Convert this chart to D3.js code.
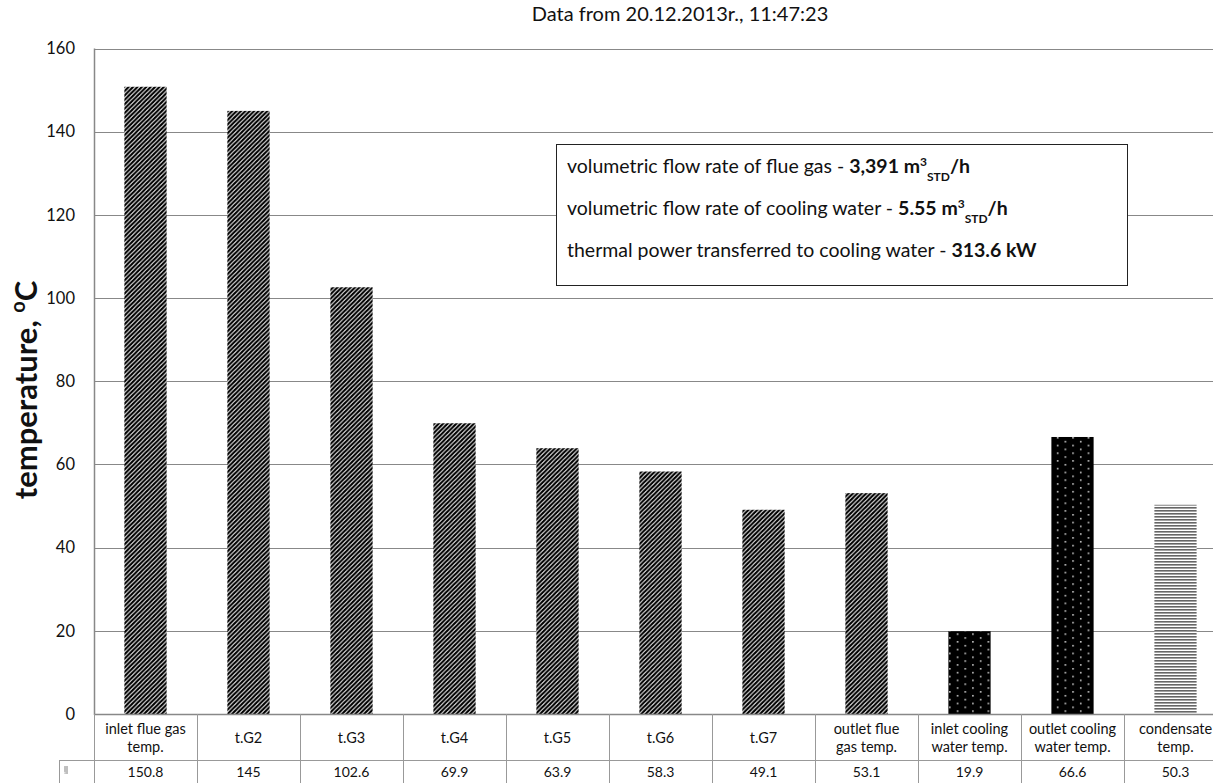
<!DOCTYPE html>
<html>
<head>
<meta charset="utf-8">
<script src="https://d3js.org/d3.v7.min.js"></script>
<style>
  body { margin: 0; background: #fff; }
  svg { display: block; font-family: Lato, "Open Sans", sans-serif; }
</style>
</head>
<body>
<svg id="chart" width="1213" height="783"></svg>
<script>
// chart data
const categories = ["inlet flue gas temp.", "t.G2", "t.G3", "t.G4", "t.G5", "t.G6", "t.G7",
                    "outlet flue gas temp.", "inlet cooling water temp.", "outlet cooling water temp.", "condensate temp."];
const labelLines = [["inlet flue gas", "temp."], ["t.G2"], ["t.G3"], ["t.G4"], ["t.G5"], ["t.G6"], ["t.G7"],
                    ["outlet flue", "gas temp."], ["inlet cooling", "water temp."], ["outlet cooling", "water temp."], ["condensate", "temp."]];
const temps = [150.8, 145, 102.6, 69.9, 63.9, 58.3, 49.1, 53.1, 19.9, 66.6, 50.3];
const tempLabels = ["150.8", "145", "102.6", "69.9", "63.9", "58.3", "49.1", "53.1", "19.9", "66.6", "50.3"];
const yTicks = [0, 20, 40, 60, 80, 100, 120, 140, 160];
const titleText = "Data from 20.12.2013r., 11:47:23";

var svg = d3.select("#chart");
var plotLeft = 94, plotTop = 48.5, plotBottom = 714, step = 103;

var x = d3.scaleBand()
  .domain(categories)
  .range([plotLeft, plotLeft + step * categories.length])
  .paddingInner(0.59)
  .paddingOuter(0.295);

var y = d3.scaleLinear()
  .domain([0, 160])
  .range([plotBottom, plotTop]);

// patterns
var defs = svg.append("defs");
var diag = defs.append("pattern").attr("id", "diag")
  .attr("patternUnits", "userSpaceOnUse").attr("width", 4.4).attr("height", 4.4);
diag.append("rect").attr("width", 4.4).attr("height", 4.4).attr("fill", "#fff");
diag.append("path").attr("d", "M-1,1 l2,-2 M0,4.4 l4.4,-4.4 M3.4,5.4 l2,-2")
  .attr("stroke", "#000").attr("stroke-width", 2.1);

var dots = defs.append("pattern").attr("id", "dots")
  .attr("patternUnits", "userSpaceOnUse").attr("width", 15.4).attr("height", 7.7);
dots.append("rect").attr("width", 15.4).attr("height", 7.7).attr("fill", "#000");
dots.append("rect").attr("x", 2).attr("y", 2).attr("width", 1.5).attr("height", 1.5).attr("fill", "#e4e4e4");
dots.append("rect").attr("x", 9.7).attr("y", 5.85).attr("width", 1.5).attr("height", 1.5).attr("fill", "#e4e4e4");

var hstripe = defs.append("pattern").attr("id", "hstripe")
  .attr("patternUnits", "userSpaceOnUse").attr("width", 6).attr("height", 3);
hstripe.append("rect").attr("width", 6).attr("height", 3).attr("fill", "#fff");
hstripe.append("rect").attr("y", 0).attr("width", 6).attr("height", 1.6).attr("fill", "#666");

function fillFor(name) {
  if (name.indexOf("cooling water") >= 0) return "url(#dots)";
  if (name.indexOf("condensate") >= 0) return "url(#hstripe)";
  return "url(#diag)";
}

// title
svg.append("text")
  .attr("x", 680).attr("y", 21)
  .attr("text-anchor", "middle")
  .style("font-size", "20px").style("fill", "#111")
  .text(titleText);

// gridlines
svg.append("g").selectAll("line")
  .data(yTicks.filter(function(d) { return d > 0; }))
  .enter().append("line")
  .attr("x1", plotLeft).attr("x2", 1213)
  .attr("y1", function(d) { return Math.round(y(d)) + 0.5; })
  .attr("y2", function(d) { return Math.round(y(d)) + 0.5; })
  .attr("stroke", "#888").attr("stroke-width", 1);

// y axis
var yAxis = svg.append("g")
  .attr("transform", "translate(" + plotLeft + ",0)")
  .call(d3.axisLeft(y).tickValues(yTicks).tickSize(0).tickPadding(19));
yAxis.select(".domain").remove();
yAxis.selectAll("text").style("font-size", "16.5px").style("fill", "#111").style("font-family", "Lato, sans-serif");

svg.append("line")
  .attr("x1", plotLeft + 0.5).attr("x2", plotLeft + 0.5)
  .attr("y1", plotTop).attr("y2", plotBottom + 1)
  .attr("stroke", "#888").attr("stroke-width", 1.5);

// y title
var yt = svg.append("text")
  .attr("transform", "translate(37,390) rotate(-90)")
  .attr("text-anchor", "middle")
  .style("font-size", "31px").style("font-weight", "bold").style("fill", "#111");
yt.append("tspan").text("temperature, ");
yt.append("tspan").attr("baseline-shift", "super").style("font-size", "20px").text("o");
yt.append("tspan").text("C");

// bars
svg.append("g").selectAll("rect")
  .data(temps)
  .enter().append("rect")
  .attr("x", function(d, i) { return x(categories[i]); })
  .attr("width", x.bandwidth())
  .attr("y", function(d) { return y(d); })
  .attr("height", function(d) { return y(0) - y(d); })
  .attr("fill", function(d, i) { return fillFor(categories[i]); });

// info box
var box = svg.append("g");
box.append("rect")
  .attr("x", 556.5).attr("y", 144.5).attr("width", 571).attr("height", 141)
  .attr("fill", "#fff").attr("stroke", "#222").attr("stroke-width", 1);

function boxLine(yy, plain, boldParts) {
  var t = box.append("text").attr("x", 567).attr("y", yy)
    .style("font-size", "19.5px").style("fill", "#111");
  t.append("tspan").text(plain);
  boldParts.forEach(function(p) {
    var s = t.append("tspan").style("font-weight", "bold").text(p.t);
    if (p.sup) s.attr("baseline-shift", "super").style("font-size", "12px");
    if (p.sub) s.attr("baseline-shift", "sub").style("font-size", "12px");
  });
}
boxLine(173, "volumetric flow rate of flue gas - ",
  [{t: "3,391 m"}, {t: "3", sup: true}, {t: "STD", sub: true}, {t: "/h"}]);
boxLine(215, "volumetric flow rate of cooling water - ",
  [{t: "5.55 m"}, {t: "3", sup: true}, {t: "STD", sub: true}, {t: "/h"}]);
boxLine(257, "thermal power transferred to cooling water - ", [{t: "313.6 kW"}]);

// data table
var table = svg.append("g");
var rowSplit = 760.5, tableRight = plotLeft + step * categories.length;
table.append("line").attr("x1", plotLeft).attr("x2", tableRight)
  .attr("y1", plotBottom + 0.5).attr("y2", plotBottom + 0.5).attr("stroke", "#888").attr("stroke-width", 1.5);
table.append("line").attr("x1", 59).attr("x2", tableRight)
  .attr("y1", rowSplit).attr("y2", rowSplit).attr("stroke", "#999");
table.append("line").attr("x1", 59.5).attr("x2", 59.5)
  .attr("y1", rowSplit).attr("y2", 783).attr("stroke", "#999");
table.selectAll(".vb")
  .data(d3.range(categories.length + 1))
  .enter().append("line").attr("class", "vb")
  .attr("x1", function(i) { return Math.round(plotLeft + i * step) + 0.5; })
  .attr("x2", function(i) { return Math.round(plotLeft + i * step) + 0.5; })
  .attr("y1", plotBottom).attr("y2", 783)
  .attr("stroke", "#999");

// header labels
categories.forEach(function(c, i) {
  var lines = labelLines[i];
  var cx = x(c) + x.bandwidth() / 2;
  var y0 = lines.length === 1 ? 743 : 734;
  var t = table.append("text").attr("text-anchor", "middle")
    .style("font-size", "14.5px").style("fill", "#111");
  lines.forEach(function(l, k) {
    t.append("tspan").attr("x", cx).attr("y", y0 + k * 18).text(l);
  });
});

// value row
table.selectAll(".val")
  .data(tempLabels)
  .enter().append("text").attr("class", "val")
  .attr("x", function(d, i) { return x(categories[i]) + x.bandwidth() / 2; })
  .attr("y", 777)
  .attr("text-anchor", "middle")
  .style("font-size", "14px").style("fill", "#111")
  .text(function(d) { return d; });

// tiny legend key
table.append("rect").attr("x", 64).attr("y", 766).attr("width", 4).attr("height", 8)
  .attr("fill", "url(#dots)").attr("opacity", 0.25);
</script>
</body>
</html>
